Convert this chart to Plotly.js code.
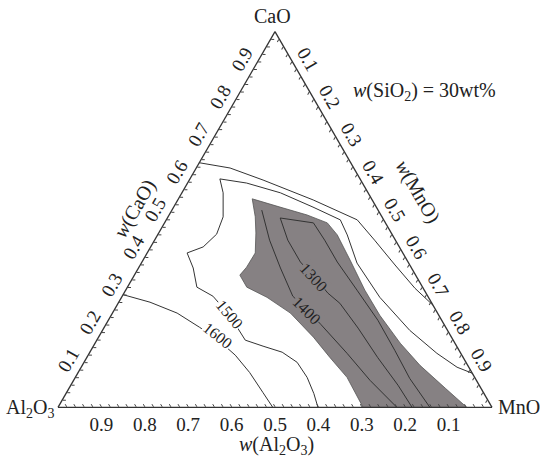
<!DOCTYPE html>
<html><head><meta charset="utf-8">
<script src="https://cdn.plot.ly/plotly-3.0.1.min.js"></script>
<style>html,body{margin:0;padding:0;background:#fff}#chart{width:543px;height:457px}</style>
</head><body><div id="chart"></div>
<script>
// ---- data (mass fractions, CaO + Al2O3 + MnO normalised to 1) ----
const iso1600Low_CaO = [0.30, 0.28, 0.251, 0.213, 0.179, 0.139, 0.093, 0.04, 0];
const iso1600Low_MnO = [0.0, 0.072, 0.149, 0.22, 0.28, 0.339, 0.395, 0.452, 0.495];

const iso1600High_CaO = [0.651, 0.637, 0.605, 0.552, 0.499, 0.445, 0.379, 0.317, 0.272];
const iso1600High_MnO = [0.0, 0.078, 0.17, 0.312, 0.44, 0.507, 0.587, 0.664, 0.728];

const iso1500_CaO = [0, 0.037, 0.08, 0.12, 0.147, 0.163, 0.179, 0.245, 0.296, 0.32, 0.371, 0.411, 0.427, 0.461, 0.507, 0.571, 0.608, 0.597, 0.571, 0.533, 0.499, 0.459, 0.384, 0.293, 0.205, 0.144, 0.107, 0.091];
const iso1500_MnO = [0.599, 0.571, 0.534, 0.491, 0.443, 0.391, 0.342, 0.273, 0.209, 0.16, 0.126, 0.092, 0.121, 0.135, 0.127, 0.095, 0.069, 0.136, 0.227, 0.321, 0.401, 0.437, 0.497, 0.595, 0.708, 0.801, 0.866, 0.909];

const zone_CaO = [0, 0.08, 0.133, 0.187, 0.251, 0.293, 0.32, 0.352, 0.373, 0.411, 0.464, 0.507, 0.555, 0.533, 0.512, 0.491, 0.459, 0.392, 0.312, 0.245, 0.171, 0.112, 0.051, 0, 0];
const zone_MnO = [0.703, 0.626, 0.56, 0.495, 0.41, 0.335, 0.275, 0.243, 0.248, 0.249, 0.224, 0.201, 0.17, 0.245, 0.318, 0.375, 0.414, 0.477, 0.551, 0.619, 0.703, 0.778, 0.867, 0.942, 0.703];

const iso1400_CaO = [0.525, 0.445, 0.371, 0.296, 0.259, 0.221, 0.144, 0.072, 0];
const iso1400_MnO = [0.207, 0.265, 0.327, 0.393, 0.445, 0.495, 0.594, 0.683, 0.781];

const iso1300_CaO = [0, 0.059, 0.133, 0.211, 0.277, 0.304, 0.347, 0.387, 0.445, 0.504, 0.491, 0.445, 0.387, 0.312, 0.232, 0.152, 0.077, 0];
const iso1300_MnO = [0.816, 0.754, 0.67, 0.586, 0.511, 0.47, 0.417, 0.365, 0.307, 0.26, 0.343, 0.392, 0.45, 0.533, 0.621, 0.7, 0.772, 0.857];

const isoLabels = ['1600', '1500', '1400', '1300'];
const tickLabels = ['0.1','0.2','0.3','0.4','0.5','0.6','0.7','0.8','0.9'];

// ---- styling ----
const SERIF = 'Liberation Serif, Times New Roman, serif';
const INK = '#222';
const GREY = '#868183';
const lineStyle = {color: '#333', width: 1};

function isoTrace(a, c, extra) {
  return Object.assign({type: 'scatterternary', mode: 'lines', a: a, c: c,
    line: lineStyle, hoverinfo: 'skip', showlegend: false}, extra || {});
}

const traces = [
  isoTrace(zone_CaO, zone_MnO, {fill: 'toself', fillcolor: GREY, line: {color: '#555', width: 0.8}}),
  isoTrace(iso1600Low_CaO, iso1600Low_MnO),
  isoTrace(iso1600High_CaO, iso1600High_MnO),
  isoTrace(iso1500_CaO, iso1500_MnO),
  isoTrace(iso1400_CaO, iso1400_MnO),
  isoTrace(iso1300_CaO, iso1300_MnO)
];

// ticks every 0.02, labelled every 0.1
const tv = [], tt = [];
for (let i = 1; i < 50; i++) { tv.push(i / 50); tt.push(i % 5 === 0 ? tickLabels[i / 5 - 1] : ''); }

function axis(angle) {
  return {min: 0, showgrid: false, showline: true, linecolor: '#333', linewidth: 1.3,
    ticks: 'inside', ticklen: 3, tickwidth: 1, tickcolor: '#444',
    tickmode: 'array', tickvals: tv, ticktext: tt, tickangle: angle,
    tickfont: {family: SERIF, size: 19, color: INK}, title: {text: ''}};
}

const W = 543, H = 457;
function px(x, y) { return {x: x / W, y: 1 - y / H}; }
function note(text, x, y, opts) {
  const p = px(x, y);
  return Object.assign({text: text, x: p.x, y: p.y, xref: 'paper', yref: 'paper', showarrow: false,
    xanchor: 'center', yanchor: 'middle',
    font: {family: SERIF, size: 20, color: INK}}, opts || {});
}
function isoNote(text, x, y, ang, bg) {
  return note(text, x, y, {textangle: ang, bgcolor: bg, borderpad: 0,
    font: {family: SERIF, size: 16, color: '#222'}});
}

const annotations = [
  note('CaO', 272, 16, {font: {family: SERIF, size: 20, color: INK}}),
  note('Al<sub>2</sub>O<sub>3</sub>', 56, 408, {xanchor: 'right'}),
  note('MnO', 496, 407, {xanchor: 'left'}),
  note('<i>w</i>(SiO<sub>2</sub>) = 30wt%', 424, 91),
  note('<i>w</i>(CaO)', 134, 209, {textangle: -60}),
  note('<i>w</i>(MnO)', 418, 191, {textangle: 60}),
  note('<i>w</i>(Al<sub>2</sub>O<sub>3</sub>)', 276, 445),
  isoNote(isoLabels[0], 218, 335, 38, '#fff'),
  isoNote(isoLabels[1], 230, 314, 50, '#fff'),
  isoNote(isoLabels[2], 307, 310, 45, GREY),
  isoNote(isoLabels[3], 314, 277, 48, GREY)
];

const layout = {
  width: W, height: H, margin: {l: 0, r: 0, t: 0, b: 0, autoexpand: false},
  paper_bgcolor: '#fff', showlegend: false,
  ternary: {
    sum: 1, bgcolor: '#fff',
    domain: {x: [58 / W, 492 / W], y: [1 - 407.5 / H, 1 - 31.5 / H]},
    aaxis: axis(-60), baxis: axis(0), caxis: axis(60)
  },
  annotations: annotations
};

Plotly.newPlot('chart', traces, layout, {staticPlot: true, displayModeBar: false});
</script></body></html>
